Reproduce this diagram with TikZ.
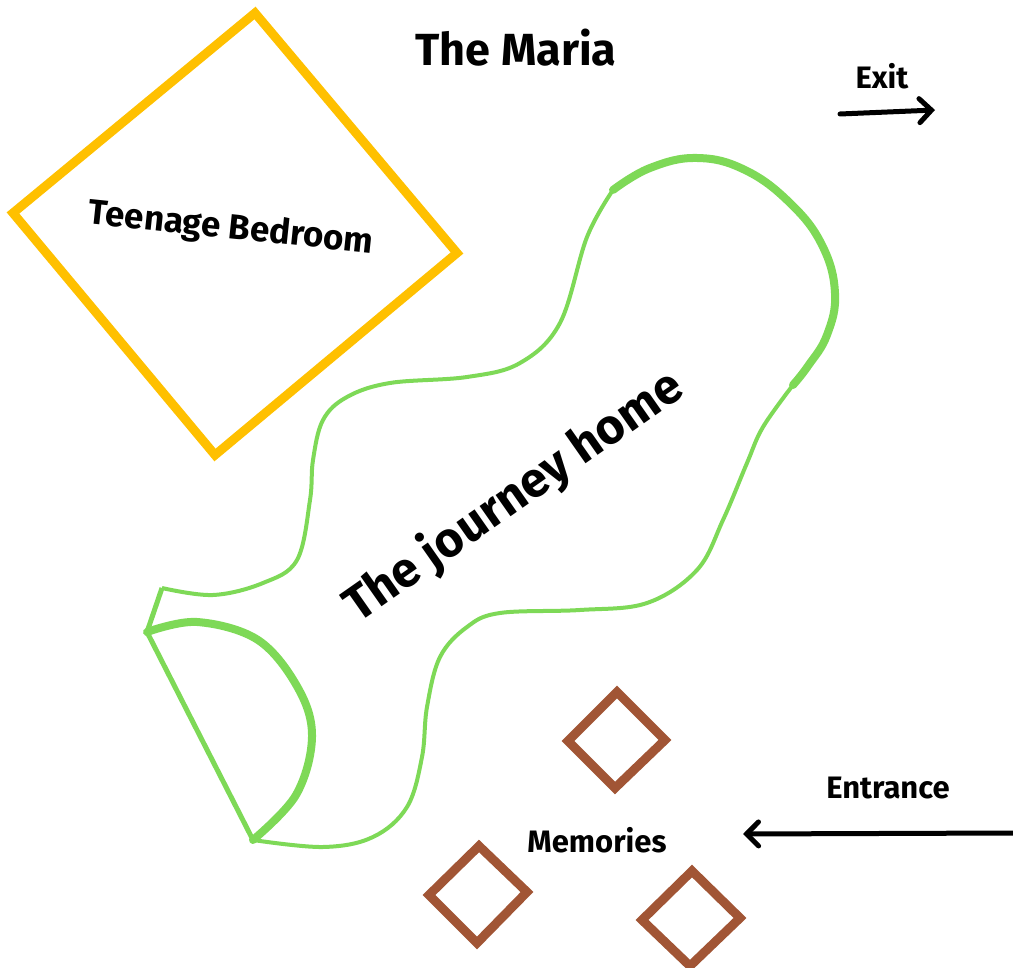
\documentclass[tikz,border=0pt]{standalone}
\usepackage{fontspec}
\setmainfont{Fira Sans}
\usetikzlibrary{arrows.meta}
\definecolor{roomyellow}{HTML}{FFC000}
\definecolor{pathgreen}{HTML}{7ED957}
\definecolor{memobrown}{HTML}{A15535}

\begin{document}
\begin{tikzpicture}[x=1pt,y=-1pt, line join=miter,
  room/.style={draw=roomyellow,line width=9pt},
  memo/.style={draw=memobrown,line width=9pt},
  trail/.style={draw=pathgreen,line width=4pt},
  bold trail/.style={draw=pathgreen,line width=8pt,line cap=round},
  way/.style={line width=5pt,line cap=round,-{Straight Barb[length=12pt,width=24pt,line cap=round]}},
  lbl/.style={inner sep=0pt,font=\bfseries}]
  \useasboundingbox (0,0) rectangle (1013,968);
  % titles and signs
  \node[lbl,font=\bfseries\fontsize{45}{45}\selectfont](maria) at (516,48){The Maria};
  \node[lbl,font=\bfseries\fontsize{31}{31}\selectfont](exit) at (882,76){Exit};
  \node[lbl,font=\bfseries\fontsize{31}{31}\selectfont](entr) at (888,788){Entrance};
  \coordinate(ex0) at (840,114); \coordinate(ex1) at (935,110);
  \coordinate(en0) at (1013,833); \coordinate(en1) at (743,834);
  \draw[way](ex0)--(ex1);
  \draw[way](en0)--(en1);
  % teenage bedroom
  \draw[room](255,13)--(457,253)--(215,455)--(13,213)--cycle;
  \node[lbl,rotate=-6,font=\bfseries\fontsize{35}{35}\selectfont](bed) at (231,229){Teenage Bedroom};
  % the journey home
  \draw[trail] plot[smooth,tension=0.6] coordinates {(162,588) (213,595) (263,583) (297,560) (310,500)
    (313,460) (323,420) (347,397) (390,383) (467,377) (520,363) (560,323) (587,237) (613,190)};
  \draw[bold trail] plot[smooth,tension=0.7] coordinates {(613,190) (650,168) (697,158) (745,170)
    (790,203) (822,245) (835,293) (827,335) (808,366) (793,385)};
  \draw[trail] plot[smooth,tension=0.6] coordinates {(793,385) (763,427) (747,463) (723,520) (697,570)
    (647,603) (580,610) (500,613) (467,627) (440,657) (427,707) (422,757) (407,807) (373,837) (323,847) (253,840)};
  \draw[pathgreen,line width=5pt](162,588)--(147,632)--(253,840);
  \draw[bold trail] plot[smooth,tension=0.6] coordinates {(147,632) (197,622) (258,640) (298,688) (312,737) (296,795) (253,840)};
  \node[lbl,rotate=35,font=\bfseries\fontsize{49}{49}\selectfont](home) at (514,497){The journey home};
  % memories
  \draw[memo](617,692)--(665,740)--(615,788)--(568,741)--cycle;
  \draw[memo](479,846)--(527,892)--(477,943)--(429,895)--cycle;
  \draw[memo](692,871)--(740,918)--(690,966)--(642,920)--cycle;
  \node[lbl,font=\bfseries\fontsize{31}{31}\selectfont](mem) at (597,840){Memories};
\end{tikzpicture}
\end{document}
